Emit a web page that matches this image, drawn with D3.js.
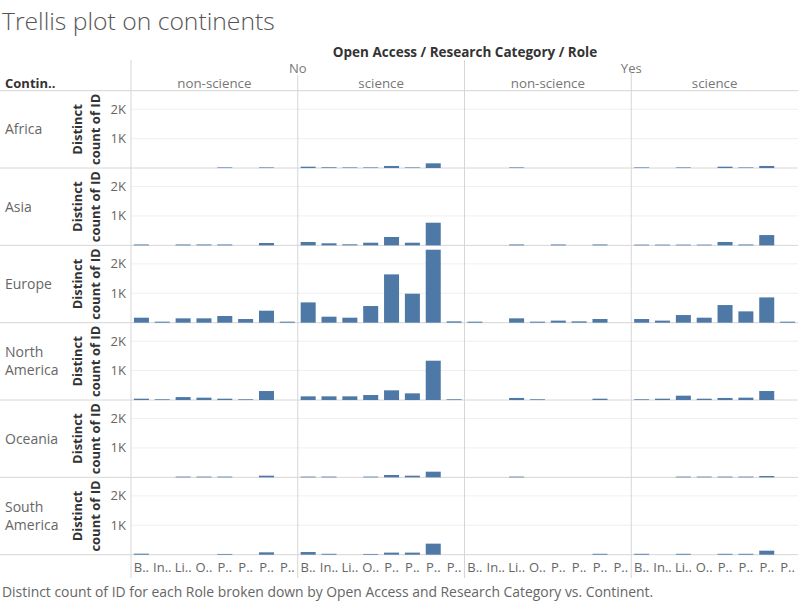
<!DOCTYPE html>
<html><head><meta charset="utf-8">
<script src="https://cdn.jsdelivr.net/npm/d3@7"></script>
<style>
html,body{margin:0;padding:0;background:#fff;}
svg text{font-family:"Open Sans","Noto Sans",sans-serif;}
</style></head>
<body><svg id="c" width="800" height="603"></svg>
<script>
// ---- data ----
const continents = ["Africa","Asia","Europe","North America","Oceania","South America"];
const openAccess = ["No","Yes"];
const researchCategories = ["non-science","science"];
const roleLabels = ["B..","In..","Li..","O..","P..","P..","P..","P.."];
const yTicks = [1000, 2000];
const yTickLabels = ["1K","2K"];
// each continent: [No/non-science, No/science, Yes/non-science, Yes/science], 8 roles each
const africa = [
  [0,0,0,0,20,0,20,0],
  [45,25,20,20,70,20,160,0],
  [0,0,20,0,0,0,0,0],
  [20,0,20,0,45,20,70,0]];
const asia = [
  [30,0,30,30,30,0,80,0],
  [115,70,35,90,285,90,770,0],
  [0,0,30,0,30,0,30,0],
  [25,25,25,25,115,30,350,0]];
const europe = [
  [170,35,148,148,227,125,408,35],
  [690,204,170,567,1643,986,2482,45],
  [35,0,148,35,70,45,125,0],
  [125,70,260,170,600,385,860,35]];
const northAmerica = [
  [45,25,100,80,45,25,306,0],
  [125,125,125,170,330,227,1337,25],
  [0,0,70,25,0,0,45,0],
  [25,45,148,45,70,80,306,0]];
const oceania = [
  [0,0,25,25,25,0,57,0],
  [25,25,0,25,80,57,193,0],
  [0,0,25,0,0,0,0,0],
  [0,0,25,25,25,25,45,0]];
const southAmerica = [
  [35,0,0,0,25,0,80,0],
  [90,30,0,25,70,70,375,0],
  [0,0,0,0,0,0,30,0],
  [30,0,30,0,30,30,136,0]];
const continentValues = [africa, asia, europe, northAmerica, oceania, southAmerica];

// ---- layout ----
const svg = d3.select("#c");
const paneLeft = 131, paneRight = 798, topY = 90.7, rowH = 77.33;
const nCols = 4;
const colW = (paneRight - paneLeft) / nCols;
const colX = d3.scaleBand().domain(d3.range(nCols)).range([paneLeft, paneRight]);
const rowY = d3.scaleBand().domain(continents).range([topY, topY + rowH * continents.length]);
const x = d3.scaleBand().domain(d3.range(roleLabels.length)).range([0, colW]).paddingInner(0.28).paddingOuter(0.14);
const y = d3.scaleLinear().domain([0, 2630]).range([rowH, 0]);
const lineCol = "#d6d6d6", gridCol = "#efefef", barCol = "#4e79a7";

// title
svg.append("text").attr("x", 2).attr("y", 30).attr("font-size", 24.7).attr("fill", "#555").attr("font-weight", 300)
  .text("Trellis plot on continents");

// header
svg.append("text").attr("x", 465).attr("y", 57).attr("text-anchor", "middle").attr("font-size", 13.5)
  .attr("font-weight", "bold").attr("fill", "#333").text("Open Access / Research Category / Role");
openAccess.forEach((oa, i) => {
  svg.append("text").attr("x", colX(i*2) + colW).attr("y", 73).attr("text-anchor", "middle")
    .attr("font-size", 13).attr("fill", "#777").text(oa);
});
d3.range(nCols).forEach(c => {
  svg.append("text").attr("x", colX(c) + colW/2).attr("y", 88).attr("text-anchor", "middle")
    .attr("font-size", 13.3).attr("fill", "#777").text(researchCategories[c % 2]);
});
svg.append("text").attr("x", 5).attr("y", 88).attr("font-size", 13).attr("font-weight", "bold").attr("fill", "#333").text("Contin..");

// gridlines
continents.forEach(cn => {
  const g = svg.append("g").attr("transform", `translate(0,${rowY(cn)})`);
  g.selectAll("line.grid").data(yTicks).join("line")
    .attr("x1", paneLeft).attr("x2", paneRight).attr("y1", d => y(d)).attr("y2", d => y(d))
    .attr("stroke", gridCol).attr("stroke-width", 1);
});

// horizontal lines
svg.append("line").attr("x1", 0).attr("x2", paneRight).attr("y1", topY).attr("y2", topY).attr("stroke", lineCol);
continents.forEach(cn => {
  svg.append("line").attr("x1", 0).attr("x2", paneRight).attr("y1", rowY(cn) + rowH).attr("y2", rowY(cn) + rowH).attr("stroke", lineCol);
});

// vertical lines
const vTops = [60, 75, 60, 73];
d3.range(nCols).forEach(c => {
  svg.append("line").attr("x1", colX(c)).attr("x2", colX(c)).attr("y1", vTops[c]).attr("y2", 578)
    .attr("stroke", lineCol);
});

// rows
continents.forEach((cn, r) => {
  const g = svg.append("g").attr("transform", `translate(0,${rowY(cn)})`);
  const parts = cn.split(" ");
  const lab = g.append("text").attr("x", 5).attr("font-size", 14).attr("fill", "#666");
  parts.forEach((p, i) => {
    lab.append("tspan").attr("x", 5).attr("y", rowH/2 + 5 + (i - (parts.length-1)/2) * 18).text(p);
  });
  const t = g.append("text").attr("transform", `translate(82,${rowH/2}) rotate(-90)`).attr("text-anchor", "middle")
    .attr("font-size", 13).attr("font-weight", "bold").attr("fill", "#333");
  t.append("tspan").attr("x", 0).attr("y", 0).text("Distinct");
  t.append("tspan").attr("x", 0).attr("y", 18).text("count of ID");
  g.selectAll("text.tick").data(yTicks).join("text").attr("class", "tick")
    .attr("x", 126).attr("y", d => y(d) + 4.5).attr("text-anchor", "end").attr("font-size", 13).attr("fill", "#666")
    .text((d, i) => yTickLabels[i]);
  continentValues[r].forEach((vals, c) => {
    const pg = g.append("g").attr("transform", `translate(${colX(c)},0)`);
    pg.selectAll("rect").data(vals.map((v, i) => ({v, i})).filter(d => d.v > 0)).join("rect")
      .attr("x", d => x(d.i)).attr("width", x.bandwidth())
      .attr("y", d => y(d.v)).attr("height", d => rowH - y(d.v))
      .attr("fill", barCol);
  });
});

// bottom axis labels
d3.range(nCols).forEach(c => {
  svg.append("g").attr("transform", `translate(${colX(c)},0)`)
    .selectAll("text").data(roleLabels).join("text")
    .attr("x", (d, i) => x(i) + x.bandwidth()/2).attr("y", 572).attr("text-anchor", "middle")
    .attr("font-size", 13).attr("fill", "#666").text(d => d);
});

// caption
svg.append("text").attr("x", 2).attr("y", 597).attr("font-size", 13.9).attr("fill", "#666")
  .text("Distinct count of ID for each Role broken down by Open Access and Research Category vs. Continent.");
</script></body></html>
